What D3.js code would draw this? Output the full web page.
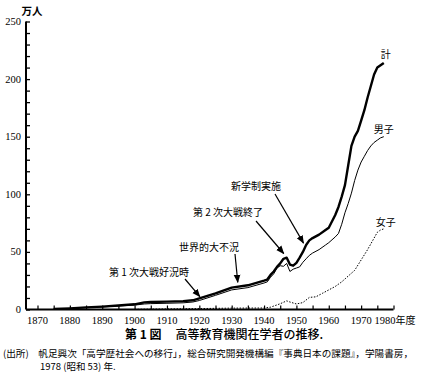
<!DOCTYPE html>
<html><head><meta charset="utf-8">
<script src="https://cdn.jsdelivr.net/npm/d3@7"></script>
<style>
html,body{margin:0;padding:0;background:#fff;}
svg{display:block;}
</style></head>
<body>
<svg id="c" width="421" height="381"></svg>
<script>
// ---- data (万人) ----
const totalYears = [1875,1880,1885,1890,1895,1900,1903,1905,1910,1915,1918,1920,1925,1930,1935,1940,1941,1942,1943,1944,1945,1946,1947,1948,1949,1950,1951,1952,1953,1954,1955,1957,1959,1960,1962,1963,1964,1965,1966,1967,1968,1969,1970,1971,1972,1973,1974,1975,1976,1977];
const totalValues = [0.5,1,1.8,2.5,3.5,4.5,6.2,6.5,6.8,7.3,8,9.7,14,19,21,25,26,30,33,37,40,44,45,39,38,40.5,45,50,56,60,62,65,69,71,82,89,98,108,125,142,150,155,164,173,184,194,204,210,212,214];
const maleYears = [1875,1880,1885,1890,1895,1900,1903,1905,1910,1915,1918,1920,1925,1930,1935,1940,1941,1942,1943,1944,1945,1946,1947,1948,1949,1950,1951,1952,1953,1954,1955,1957,1959,1960,1962,1963,1964,1965,1966,1967,1968,1969,1970,1971,1972,1973,1974,1975,1976,1977];
const maleValues = [0.4,0.9,1.6,2.2,3.1,3.8,4.8,5.1,5.4,5.8,6.5,7.8,12.3,17,19,23,24,28,31,36,38,37.5,40,33,35,36,37,41,44,47,49,52,56,58,63,66,74,84,92,101,112,121,128,133,138,142,145,147,149,150];
const femaleYears = [1900,1910,1920,1930,1940,1942,1943,1945,1947,1948,1950,1952,1954,1956,1958,1960,1962,1964,1966,1968,1970,1972,1974,1975,1976,1977];
const femaleValues = [0.2,0.5,0.8,1.2,1.3,2,3,5,7.5,6.5,4.8,6,10.5,11,14,17,20,24,29,34,43,52,62,67,69,70];
const xTicks = [1870,1875,1880,1885,1890,1895,1900,1905,1910,1915,1920,1925,1930,1935,1940,1945,1950,1955,1960,1965,1970,1975,1980];
const xLabels = [1870,1880,1890,1900,1910,1920,1930,1940,1950,1960,1970,1980];
const yTicks = [0,10,20,30,40,50,60,70,80,90,100,110,120,130,140,150,160,170,180,190,200,210,220,230,240,250];
const yLabels = [0,50,100,150,200,250];
const annotations = [
  {text:"第 1 次大戦好況時", year:1918.3, value:8.5},
  {text:"世界的大不況", year:1932.5, value:21},
  {text:"第 2 次大戦終了", year:1946.7, value:46},
  {text:"新学制実施", year:1952.5, value:55}
];
const seriesLabels = ["計","男子","女子"];

// ---- layout ----
const svg = d3.select("#c");
const serif = "'Liberation Serif','DejaVu Serif',serif";
const cjk = "'Noto Sans CJK JP','Noto Sans CJK SC',sans-serif";
const x = d3.scaleLinear().domain([1870,1980]).range([37.5,393.5]);
const y = d3.scaleLinear().domain([0,250]).range([309.5,21.5]);
const x0 = 26;

const g = svg.append("g");
// y axis
const yAxis = d3.axisRight(y).tickValues(yTicks).tickSize(4).tickFormat("");
const ya = g.append("g").attr("transform",`translate(${x0},0)`).call(yAxis);
ya.select(".domain").remove();
ya.selectAll("line").attr("stroke","#000").attr("stroke-width",1.3);
g.append("line").attr("x1",x0).attr("x2",x0).attr("y1",y(0)).attr("y2",y(250)).attr("stroke","#000").attr("stroke-width",2);
g.selectAll("text.yl").data(yLabels).enter().append("text").attr("class","yl")
  .attr("x",x0-5).attr("y",d=>y(d)+3.5).attr("text-anchor","end")
  .attr("font-family",serif).attr("font-size",10.5).text(d=>d);
// x axis
const xAxis = d3.axisTop(x).tickValues(xTicks).tickSize(4).tickFormat("");
const xa = g.append("g").attr("transform",`translate(0,${y(0)})`).call(xAxis);
xa.select(".domain").remove();
xa.selectAll("line").attr("stroke","#000").attr("stroke-width",1.2);
g.append("line").attr("x1",x0).attr("x2",x(1980)).attr("y1",y(0)).attr("y2",y(0)).attr("stroke","#000").attr("stroke-width",2);
g.selectAll("text.xl").data(xLabels.filter(d=>d!==1980)).enter().append("text").attr("class","xl")
  .attr("x",d=>x(d)).attr("y",y(0)+14).attr("text-anchor","middle")
  .attr("font-family",serif).attr("font-size",10.5)
  .text(d=>d);
const last = g.append("text").attr("x",x(1980)-19).attr("y",y(0)+14).attr("text-anchor","start")
  .attr("font-family",serif).attr("font-size",10.5);
last.append("tspan").text(xLabels[xLabels.length-1]);
last.append("tspan").attr("font-family",cjk).attr("font-size",10).text("年度");
g.append("text").attr("x",x0+6).attr("y",15).attr("text-anchor","middle")
  .attr("font-family",cjk).attr("font-size",10.5).attr("font-weight","bold").text("万人");

// lines
const line = d3.line().x(d=>x(d[0])).y(d=>y(d[1])).curve(d3.curveLinear);
const tot = d3.zip(totalYears,totalValues);
const mal = d3.zip(maleYears,maleValues);
const fem = d3.zip(femaleYears,femaleValues);
svg.append("path").attr("d",line(tot)).attr("fill","none").attr("stroke","#000").attr("stroke-width",2.4).attr("stroke-linejoin","round");
svg.append("path").attr("d",line(mal)).attr("fill","none").attr("stroke","#000").attr("stroke-width",1).attr("stroke-linejoin","round");
svg.append("path").attr("d",line(fem)).attr("fill","none").attr("stroke","#000").attr("stroke-width",1).attr("stroke-dasharray","1.5,1.5");

// series labels
const lastT = tot[tot.length-1], lastM = mal[mal.length-1], lastF = fem[fem.length-1];
svg.append("text").attr("x",x(lastT[0])+2).attr("y",y(lastT[1])-5).attr("text-anchor","middle")
  .attr("font-family",cjk).attr("font-size",10).text(seriesLabels[0]);
svg.append("text").attr("x",x(lastM[0])).attr("y",y(lastM[1])-4).attr("text-anchor","middle")
  .attr("font-family",cjk).attr("font-size",10).text(seriesLabels[1]);
svg.append("text").attr("x",x(lastF[0])+2).attr("y",y(lastF[1])-3).attr("text-anchor","middle")
  .attr("font-family",cjk).attr("font-size",10).text(seriesLabels[2]);

// annotations with arrows
svg.append("defs").append("marker").attr("id","ah").attr("viewBox","0 0 10 10")
  .attr("refX",9).attr("refY",5).attr("markerWidth",7).attr("markerHeight",7).attr("orient","auto-start-reverse")
  .append("path").attr("d","M0,1 L10,5 L0,9 Z").attr("fill","#000");
const annPos = [
  {tx:149, ty:276, ax1:185, ay1:279, dx:6, dy:-3},
  {tx:209, ty:251, ax1:235, ay1:254, dx:-2, dy:-3},
  {tx:228, ty:216, ax1:256, ay1:221, dx:-2, dy:-3},
  {tx:256, ty:190, ax1:275, ay1:194, dx:-1, dy:-3}
];
annotations.forEach((a,i)=>{
  const p = annPos[i];
  svg.append("text").attr("x",p.tx).attr("y",p.ty).attr("text-anchor","middle")
    .attr("font-family",cjk).attr("font-size",10).text(a.text);
  svg.append("line").attr("x1",p.ax1).attr("y1",p.ay1)
    .attr("x2",x(a.year)+p.dx).attr("y2",y(a.value)+p.dy)
    .attr("stroke","#000").attr("stroke-width",1.2).attr("marker-end","url(#ah)");
});

// caption
const cap = svg.append("text").attr("x",125).attr("y",339)
  .attr("font-family",cjk).attr("font-size",12);
cap.append("tspan").attr("font-weight","bold").text("第 1 図");
cap.append("tspan").attr("dx",14).attr("font-weight",500).text("高等教育機関在学者の推移.");
svg.append("text").attr("x",3).attr("y",356.5)
  .attr("font-family",cjk).attr("font-size",9.5).attr("textLength",410).attr("lengthAdjust","spacingAndGlyphs")
  .text("(出所)　帆足興次「高学歴社会への移行」，総合研究開発機構編『事典日本の課題』，学陽書房，");
svg.append("text").attr("x",40).attr("y",370)
  .attr("font-family",cjk).attr("font-size",9.5)
  .text("1978 (昭和 53) 年.");
</script>
</body></html>
